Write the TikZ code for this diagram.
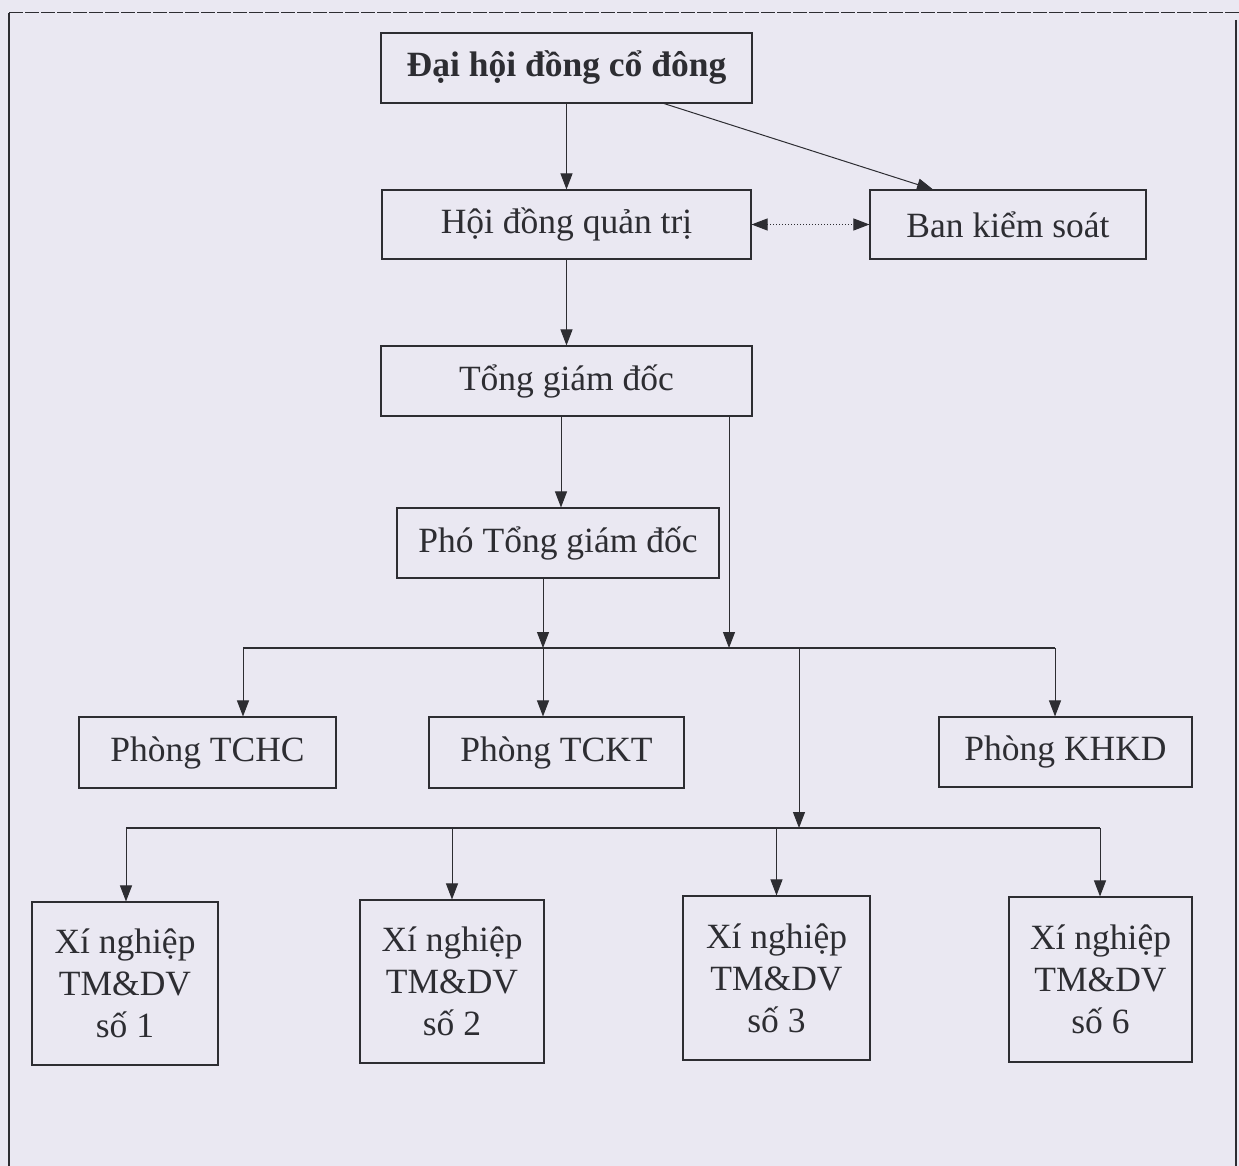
\documentclass[tikz,border=0pt]{standalone}
\usepackage{fontspec}
\setmainfont{Liberation Serif}
\usetikzlibrary{arrows.meta}
\definecolor{paper}{RGB}{234,232,242}
\definecolor{ink}{RGB}{45,45,50}
\begin{document}
\begin{tikzpicture}[x=1pt,y=-1pt,
	box/.style={draw=\LINECOLOR,line width=1.1pt,inner sep=0pt,align=center,
		text=\LINECOLOR,font=\fontsize{35.5}{42}\selectfont},
	arr/.style={draw=\LINECOLOR,line width=1pt,-{Triangle[length=16pt,width=12pt]}},
	bus/.style={draw=\LINECOLOR,line width=1.1pt}]

\def\LINECOLOR{ink}
	\fill[paper] (0,0) rectangle (1239,1166);
	\useasboundingbox (0,0) rectangle (1239,1166);
	\draw[\LINECOLOR,line width=1pt,dash pattern=on 14pt off 2pt] (9,13) -- (1239,13);
	\draw[\LINECOLOR,line width=1.2pt] (9,13) -- (9,1166);
	\draw[\LINECOLOR,line width=1.2pt] (1236,20) -- (1236,1166);

	\node[box,minimum width=371pt,minimum height=70pt] (dhdcd) at (566.5,68) {\bfseries Đại hội đồng cổ đông};
	\node[box,minimum width=369pt,minimum height=69pt] (hdqt) at (566.5,224.5) {Hội đồng quản trị};
	\node[box,minimum width=276pt,minimum height=69pt] (bks) at (1008,224.5) {Ban kiểm soát};
	\node[box,minimum width=371pt,minimum height=70pt] (tgd) at (566.5,381) {Tổng giám đốc};
	\node[box,minimum width=322pt,minimum height=70pt] (ptgd) at (558,543) {Phó Tổng giám đốc};

	\node[box,minimum width=257pt,minimum height=71pt] (tchc) at (207.5,752.5) {Phòng TCHC};
	\node[box,minimum width=255pt,minimum height=71pt] (tckt) at (556.5,752.5) {Phòng TCKT};
	\node[box,minimum width=253pt,minimum height=70pt] (khkd) at (1065.5,752) {Phòng KHKD};

	\node[box,minimum width=186pt,minimum height=163pt] (xn1) at (125,983.5) {Xí nghiệp\\TM\&DV\\số 1};
	\node[box,minimum width=184pt,minimum height=163pt] (xn2) at (452,981.5) {Xí nghiệp\\TM\&DV\\số 2};
	\node[box,minimum width=187pt,minimum height=164pt] (xn3) at (776.5,978) {Xí nghiệp\\TM\&DV\\số 3};
	\node[box,minimum width=183pt,minimum height=165pt] (xn6) at (1100.5,979.5) {Xí nghiệp\\TM\&DV\\số 6};

	\coordinate (busA) at (243,648);
	\coordinate (busB) at (1055,648);
	\coordinate (busC) at (799,648);
	\coordinate (busD) at (729,648);
	\coordinate (busE) at (543,648);
	\coordinate (lowA) at (126,828);
	\coordinate (lowB) at (1100,828);
	\coordinate (lowC) at (799,828);

	\draw[arr] (dhdcd.south) -- (hdqt.north);
	\draw[arr] (dhdcd.south -| 664,0) -- (bks.north -| 933,0);
	\draw[arr,{Triangle[length=16pt,width=12pt]}-{Triangle[length=16pt,width=12pt]},dotted] (hdqt.east) -- (bks.west);
	\draw[arr] (hdqt.south) -- (tgd.north);
	\draw[arr] (tgd.south -| 561,0) -- (ptgd.north -| 561,0);
	\draw[arr] (tgd.south -| busD) -- (busD);
	\draw[arr] (ptgd.south -| busE) -- (busE);

	\draw[bus] (busA) -- (busB);
	\draw[arr] (busA) -- (tchc.north -| busA);
	\draw[arr] (busE) -- (tckt.north -| busE);
	\draw[arr] (busB) -- (khkd.north -| busB);
	\draw[arr] (busC) -- (lowC);

	\draw[bus] (lowA) -- (lowB);
	\draw[arr] (lowA) -- (xn1.north -| lowA);
	\draw[arr] (lowA -| xn2) -- (xn2.north);
	\draw[arr] (lowA -| xn3) -- (xn3.north);
	\draw[arr] (lowB) -- (xn6.north -| lowB);

\end{tikzpicture}
\end{document}
